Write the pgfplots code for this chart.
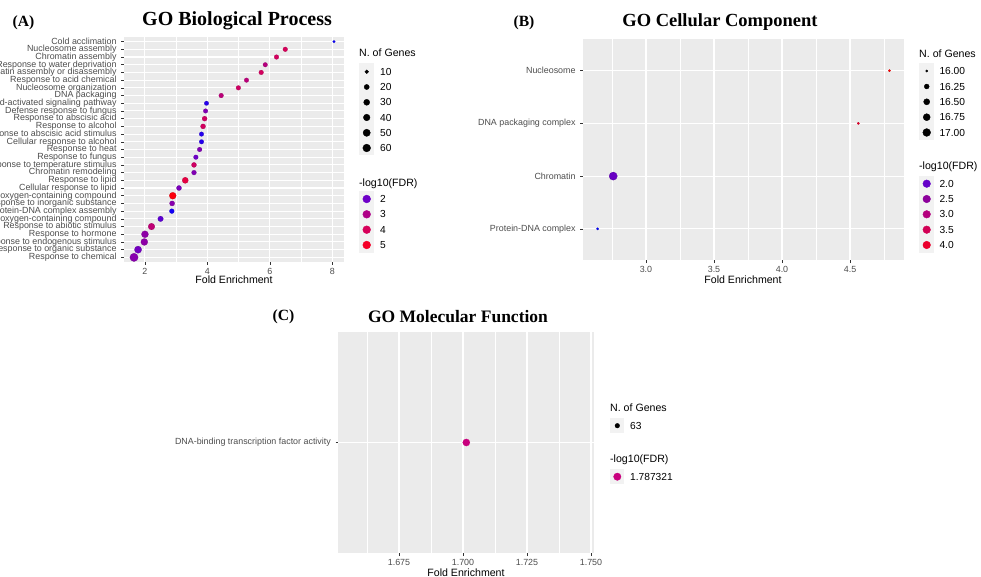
\documentclass[border=0pt]{standalone}
\usepackage{pgfplots}
\pgfplotsset{compat=1.18}
\usepackage{pgfplotstable}
\usepackage{fontspec}
\setmainfont{Liberation Sans}
\newfontfamily\titlefont{Liberation Serif}
\definecolor{ggbg}{RGB}{235,235,235}
\definecolor{ggkey}{RGB}{242,242,242}
\definecolor{ggtick}{RGB}{51,51,51}
\definecolor{ggtext}{RGB}{77,77,77}
% legend colours, panel A (-log10 FDR = 2,3,4,5)
\definecolor{caII}{RGB}{110,0,200}
\definecolor{caIII}{RGB}{175,0,135}
\definecolor{caIV}{RGB}{215,0,90}
\definecolor{caV}{RGB}{245,0,40}
% legend colours, panel B (2.0 ... 4.0)
\definecolor{cbA}{RGB}{100,0,200}
\definecolor{cbB}{RGB}{140,0,155}
\definecolor{cbC}{RGB}{180,0,125}
\definecolor{cbD}{RGB}{210,0,85}
\definecolor{cbE}{RGB}{235,0,45}
\definecolor{ccA}{RGB}{200,0,125}

% Panel A: GO Biological Process (pos 1 = bottom)
\pgfplotstableread{
pos fe   n  fdr
29  8.05  8 1.45
28  6.49 16 4.0
27  6.21 16 3.9
26  5.85 15 3.2
25  5.72 16 3.9
24  5.25 15 3.3
23  4.99 16 3.8
22  4.44 16 3.3
21  3.97 14 1.6
20  3.94 15 2.3
19  3.91 19 3.8
18  3.86 19 3.9
17  3.81 15 1.6
16  3.81 15 1.6
15  3.75 16 2.3
14  3.63 16 2.0
13  3.57 19 3.8
12  3.57 17 2.3
11  3.29 32 4.5
10  3.09 20 2.2
9   2.89 44 5.2
8   2.87 20 2.4
7   2.86 17 1.5
6   2.50 24 1.9
5   2.21 40 3.4
4   2.00 45 2.5
3   1.98 45 2.5
2   1.78 50 2.1
1   1.65 72 2.4
}\dataA

% Panel B: GO Cellular Component
\pgfplotstableread{
pos fe    n  fdr
4   4.790 16 4.10
3   4.561 16 4.00
2   2.759 17 2.05
1   2.644 16 1.80
}\dataB

% Panel C: GO Molecular Function
\pgfplotstableread{
pos fe     n  fdr
1   1.7013 63 1.787321
}\dataC

\pgfplotsset{
  ggbase/.style={
    scale only axis,
    axis background/.style={fill=ggbg},
    axis x line*=bottom, axis y line*=left,
    axis line style={draw=none},
    tick align=outside, major tick length=2.75pt, minor tick length=0pt,
    tick style={color=ggtick, line width=0.5pt},
    xmajorgrids, xminorgrids, ymajorgrids,
    major grid style={white, line width=1.07pt},
    minor grid style={white, line width=0.53pt},
    ticklabel style={font=\fontsize{8.9}{10}\selectfont, text=ggtext},
    xticklabel style={inner sep=0pt, anchor=north, yshift=-3pt},
    yticklabel style={inner sep=0pt, anchor=east, xshift=-4.5pt},
    /pgf/number format/assume math mode=true,
  },
  ggscatter/.style={
    scatter, only marks, mark=*, scatter src=explicit,
    mark options={line width=0.2pt},
    scatter/@pre marker code/.append style={/tikz/mark size=\rad},
  },
}

\begin{document}
\begin{tikzpicture}
\useasboundingbox (0pt,0pt) rectangle (981pt,577pt);
\clip (0pt,0pt) rectangle (981pt,577pt);

% ---------------- Panel A ----------------
\begin{axis}[ggbase, at={(124pt,315pt)}, anchor=south west,
  width=220pt, height=225pt,
  xmin=1.33, xmax=8.37, ymin=0.4, ymax=29.6,
  xtick={2,4,6,8}, minor xtick={3,5,7},
  ytick={1,...,29},
  yticklabels={Response to chemical, Response to organic substance,
    Response to endogenous stimulus, Response to hormone,
    Response to abiotic stimulus, Cellular response to oxygen-containing compound,
    Protein-DNA complex assembly, Response to inorganic substance,
    Response to oxygen-containing compound, Cellular response to lipid,
    Response to lipid, Chromatin remodeling, Response to temperature stimulus,
    Response to fungus, Response to heat, Cellular response to alcohol,
    Cellular response to abscisic acid stimulus, Response to alcohol,
    Response to abscisic acid, Defense response to fungus,
    Abscisic acid-activated signaling pathway, DNA packaging,
    Nucleosome organization, Response to acid chemical,
    Chromatin assembly or disassembly, Response to water deprivation,
    Chromatin assembly, Nucleosome assembly, Cold acclimation},
  colormap={gga}{rgb255(14pt)=(0,0,255) rgb255(20pt)=(110,0,200) rgb255(30pt)=(175,0,135) rgb255(40pt)=(215,0,90) rgb255(50pt)=(245,0,40) rgb255(53pt)=(255,0,0)},
  point meta min=1.4, point meta max=5.3]
\addplot[ggscatter, visualization depends on={1.35+2.8*sqrt((\thisrow{n}-8)/64) \as \rad}]
  table[x=fe, y=pos, meta=fdr] {\dataA};
\end{axis}

% ---------------- Panel B ----------------
\begin{axis}[ggbase, at={(583pt,316.5pt)}, anchor=south west,
  width=321pt, height=221.5pt,
  xmin=2.537, xmax=4.897, ymin=0.4, ymax=4.6,
  xtick={3.0,3.5,4.0,4.5}, xticklabels={3.0,3.5,4.0,4.5},
  minor xtick={2.75,3.25,3.75,4.25,4.75},
  ytick={1,2,3,4},
  yticklabels={Protein-DNA complex, Chromatin, DNA packaging complex, Nucleosome},
  colormap={ggb}{rgb255(18pt)=(0,0,255) rgb255(20pt)=(100,0,200) rgb255(25pt)=(140,0,155) rgb255(30pt)=(180,0,125) rgb255(35pt)=(210,0,85) rgb255(40pt)=(235,0,45) rgb255(41pt)=(255,0,0)},
  point meta min=1.8, point meta max=4.1]
\addplot[ggscatter, visualization depends on={1.2+2.9*sqrt(\thisrow{n}-16) \as \rad}]
  table[x=fe, y=pos, meta=fdr] {\dataB};
\end{axis}

% ---------------- Panel C ----------------
\begin{axis}[ggbase, at={(338.3pt,23.7pt)}, anchor=south west,
  width=256pt, height=221.6pt,
  xmin=1.6513, xmax=1.7513, ymin=0.4, ymax=1.6,
  xtick={1.675,1.700,1.725,1.750}, xticklabels={1.675,1.700,1.725,1.750},
  minor xtick={1.6625,1.6875,1.7125,1.7375},
  ytick={1}, yticklabels={DNA-binding transcription factor activity}]
\addplot[only marks, mark=*, mark size=3.6, color=ccA, mark options={line width=0.2pt}]
  table[x=fe, y=pos] {\dataC};
\end{axis}

% ---------------- Titles, axis titles and legends ----------------
\begin{axis}[at={(0pt,577pt)}, anchor=north west, scale only axis,
  width=981pt, height=577pt, xmin=0, xmax=981, ymin=0, ymax=577,
  y dir=reverse, hide axis, clip=false]
% titles
\node[font=\titlefont\bfseries\fontsize{15.6}{18}\selectfont] at (23.5,23) {(A)};
\node[font=\titlefont\bfseries\fontsize{20}{22}\selectfont] at (237,21) {GO Biological Process};
\node[font=\titlefont\bfseries\fontsize{15.6}{18}\selectfont] at (524,23) {(B)};
\node[font=\titlefont\bfseries\fontsize{18.5}{22}\selectfont] at (720,22) {GO Cellular Component};
\node[font=\titlefont\bfseries\fontsize{15.6}{18}\selectfont] at (283.5,317) {(C)};
\node[font=\titlefont\bfseries\fontsize{17.5}{20}\selectfont] at (458,317) {GO Molecular Function};
% axis titles
\node[font=\fontsize{10.6}{12}\selectfont] at (234,280) {Fold Enrichment};
\node[font=\fontsize{10.6}{12}\selectfont] at (743,280) {Fold Enrichment};
\node[font=\fontsize{10.6}{12}\selectfont] at (466,573) {Fold Enrichment};

% ---- legend A ----
\fill[ggkey] (359,63.3) rectangle (374.3,155.5);
\fill[ggkey] (359,191.5) rectangle (374.3,252.5);
\node[anchor=west, inner sep=0pt, font=\fontsize{10.6}{12}\selectfont] at (359,53) {N. of Genes};
\node[anchor=west, inner sep=0pt, font=\fontsize{10.6}{12}\selectfont] at (359,183.3) {-log10(FDR)};
\addplot[only marks, mark=*, black, mark size=1.85] coordinates {(366.7,71.7)};
\addplot[only marks, mark=*, black, mark size=2.55] coordinates {(366.7,87)};
\addplot[only marks, mark=*, black, mark size=3.0] coordinates {(366.7,102.3)};
\addplot[only marks, mark=*, black, mark size=3.3] coordinates {(366.7,117.5)};
\addplot[only marks, mark=*, black, mark size=3.6] coordinates {(366.7,132.8)};
\addplot[only marks, mark=*, black, mark size=3.85] coordinates {(366.7,148)};
\addplot[only marks, mark=*, caII, mark size=3.9] coordinates {(366.7,199)};
\addplot[only marks, mark=*, caIII, mark size=3.9] coordinates {(366.7,214.3)};
\addplot[only marks, mark=*, caIV, mark size=3.9] coordinates {(366.7,229.7)};
\addplot[only marks, mark=*, caV, mark size=3.9] coordinates {(366.7,245)};
\begin{scope}[every node/.style={anchor=west, inner sep=0pt, font=\fontsize{10.2}{12}\selectfont}]
\node at (380,71.7) {10};
\node at (380,87) {20};
\node at (380,102.3) {30};
\node at (380,117.5) {40};
\node at (380,132.8) {50};
\node at (380,148) {60};
\node at (380,199) {2};
\node at (380,214.3) {3};
\node at (380,229.7) {4};
\node at (380,245) {5};
\end{scope}

% ---- legend B ----
\fill[ggkey] (919.3,63.3) rectangle (934.3,140);
\fill[ggkey] (919.3,176) rectangle (934.3,252.7);
\node[anchor=west, inner sep=0pt, font=\fontsize{10.6}{12}\selectfont] at (919,53.3) {N. of Genes};
\node[anchor=west, inner sep=0pt, font=\fontsize{10.6}{12}\selectfont] at (919,166.7) {-log10(FDR)};
\addplot[only marks, mark=*, black, mark size=1.1] coordinates {(926.7,71)};
\addplot[only marks, mark=*, black, mark size=2.45] coordinates {(926.7,86.5)};
\addplot[only marks, mark=*, black, mark size=3.05] coordinates {(926.7,101.8)};
\addplot[only marks, mark=*, black, mark size=3.5] coordinates {(926.7,117.2)};
\addplot[only marks, mark=*, black, mark size=3.9] coordinates {(926.7,132.5)};
\addplot[only marks, mark=*, cbA, mark size=3.8] coordinates {(926.7,183.7)};
\addplot[only marks, mark=*, cbB, mark size=3.8] coordinates {(926.7,199)};
\addplot[only marks, mark=*, cbC, mark size=3.8] coordinates {(926.7,214.3)};
\addplot[only marks, mark=*, cbD, mark size=3.8] coordinates {(926.7,229.7)};
\addplot[only marks, mark=*, cbE, mark size=3.8] coordinates {(926.7,245)};
\begin{scope}[every node/.style={anchor=west, inner sep=0pt, font=\fontsize{10.2}{12}\selectfont}]
\node at (939.3,71) {16.00};
\node at (939.3,86.5) {16.25};
\node at (939.3,101.8) {16.50};
\node at (939.3,117.2) {16.75};
\node at (939.3,132.5) {17.00};
\node at (939.3,183.7) {2.0};
\node at (939.3,199) {2.5};
\node at (939.3,214.3) {3.0};
\node at (939.3,229.7) {3.5};
\node at (939.3,245) {4.0};
\end{scope}

% ---- legend C ----
\fill[ggkey] (610,418.3) rectangle (624.3,432.9);
\fill[ggkey] (610,469.3) rectangle (624.3,484);
\node[anchor=west, inner sep=0pt, font=\fontsize{10.6}{12}\selectfont] at (610,407.3) {N. of Genes};
\node[anchor=west, inner sep=0pt, font=\fontsize{10.6}{12}\selectfont] at (610,459.3) {-log10(FDR)};
\addplot[only marks, mark=*, black, mark size=2.3] coordinates {(617.3,425.7)};
\addplot[only marks, mark=*, ccA, mark size=3.7] coordinates {(617.3,476.7)};
\node[anchor=west, inner sep=0pt, font=\fontsize{10.2}{12}\selectfont] at (630,425.7) {63};
\node[anchor=west, inner sep=0pt, font=\fontsize{10.2}{12}\selectfont] at (630,476.7) {1.787321};
\end{axis}
\end{tikzpicture}
\end{document}
